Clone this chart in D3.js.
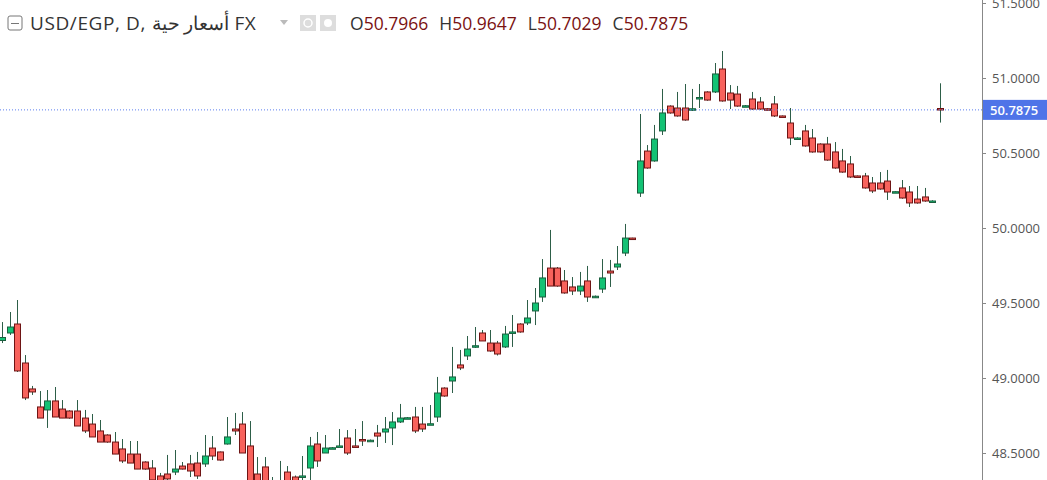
<!DOCTYPE html>
<html><head><meta charset="utf-8">
<script src="https://cdn.jsdelivr.net/npm/d3@7"></script>
<style>body{margin:0;background:#fff;font-family:"Open Sans",Arial,sans-serif}</style>
</head><body><svg id="c" width="1047" height="480"></svg>
<script>
const opens=[49.25,49.30,49.36,49.10,48.927,48.807,48.787,48.847,48.793,48.78,48.78,48.733,48.693,48.647,48.62,48.573,48.527,48.493,48.493,48.44,48.40,48.347,48.36,
48.373,48.413,48.427,48.433,48.427,48.533,48.507,48.56,48.66,48.693,48.547,48.36,48.407,48.30,48.31,48.373,48.34,48.34,48.40,48.56,48.50,
48.533,48.54,48.60,48.547,48.59,48.585,48.633,48.64,48.667,48.707,48.73,48.74,48.693,48.69,48.74,48.933,48.98,49.087,49.147,49.21,49.30,49.233,
49.233,49.207,49.303,49.36,49.367,49.447,49.54,49.733,49.733,49.647,49.607,49.58,49.647,49.54,49.593,49.713,49.74,49.833,49.933,
50.233,50.513,50.447,50.647,50.813,50.80,50.80,50.79,50.865,50.907,50.907,51.06,50.90,50.893,50.81,50.86,50.84,50.795,50.827,50.747,50.70,50.60,
50.647,50.60,50.56,50.56,50.507,50.447,50.427,50.347,50.347,50.30,50.30,50.313,50.24,50.267,50.24,50.193,50.207,50.18,50.7966];
const closes=[49.27,49.34,49.047,48.867,48.907,48.733,48.847,48.74,48.733,48.733,48.68,48.647,48.607,48.573,48.573,48.493,48.447,48.433,48.393,48.393,48.32,48.29,48.327,
48.393,48.393,48.38,48.347,48.48,48.48,48.453,48.607,48.647,48.50,48.29,48.29,48.28,48.29,48.315,48.30,48.30,48.347,48.547,48.447,48.533,
48.535,48.547,48.50,48.54,48.587,48.585,48.613,48.66,48.707,48.733,48.735,48.647,48.66,48.695,48.90,48.88,49.007,49.067,49.193,49.215,49.247,49.18,
49.16,49.293,49.307,49.307,49.40,49.50,49.667,49.613,49.613,49.567,49.58,49.613,49.54,49.545,49.667,49.70,49.76,49.933,49.93,
50.447,50.40,50.593,50.767,50.767,50.747,50.72,50.795,50.87,50.853,51.027,50.847,50.853,50.813,50.815,50.793,50.793,50.79,50.747,50.745,50.60,50.60,
50.547,50.507,50.507,50.453,50.40,50.373,50.34,50.345,50.267,50.247,50.26,50.24,50.242,50.20,50.167,50.167,50.18,50.18,50.7875];
const highs=[49.373,49.44,49.52,49.153,48.947,48.913,48.92,48.94,48.853,48.785,48.853,48.787,48.76,48.72,48.625,48.64,48.593,48.58,48.58,48.445,48.453,48.367,48.487,
48.52,48.44,48.487,48.507,48.62,48.613,48.51,48.74,48.767,48.773,48.713,48.473,48.473,48.34,48.447,48.413,48.35,48.48,48.607,48.64,48.62,
48.54,48.66,48.653,48.66,48.713,48.59,48.687,48.74,48.773,48.827,48.74,48.807,48.807,48.82,49.007,48.938,49.207,49.187,49.28,49.34,49.32,49.32,
49.247,49.347,49.42,49.365,49.52,49.60,49.793,49.987,49.74,49.72,49.673,49.707,49.747,49.55,49.793,49.787,49.88,50.027,49.935,
50.76,50.553,50.687,50.927,50.818,50.907,50.96,50.927,50.96,50.912,51.10,51.18,50.953,50.947,50.82,50.907,50.873,50.80,50.88,50.75,50.80,50.605,
50.687,50.66,50.565,50.607,50.573,50.527,50.48,50.35,50.367,50.34,50.373,50.387,50.245,50.32,50.28,50.28,50.267,50.185,50.9647];
const lows=[49.233,49.287,49.04,48.853,48.887,48.733,48.667,48.74,48.733,48.728,48.68,48.633,48.607,48.573,48.568,48.493,48.433,48.433,48.393,48.388,48.30,48.28,48.32,
48.353,48.39,48.34,48.327,48.407,48.453,48.448,48.556,48.62,48.50,48.28,48.27,48.27,48.25,48.26,48.27,48.28,48.30,48.30,48.407,48.50,
48.53,48.54,48.487,48.535,48.547,48.58,48.54,48.567,48.553,48.70,48.728,48.633,48.64,48.688,48.707,48.875,48.90,49.053,49.12,49.20,49.247,49.175,
49.15,49.20,49.207,49.302,49.353,49.353,49.507,49.613,49.608,49.562,49.553,49.553,49.507,49.535,49.567,49.607,49.72,49.813,49.925,
50.207,50.395,50.442,50.62,50.762,50.742,50.715,50.78,50.80,50.848,50.90,50.842,50.793,50.808,50.808,50.788,50.788,50.785,50.74,50.74,50.553,50.595,
50.542,50.502,50.502,50.448,50.395,50.368,50.333,50.34,50.262,50.233,50.255,50.187,50.237,50.195,50.14,50.162,50.175,50.175,50.7029];
const yTicks=[48.5,49.0,49.5,50.0,50.5,51.0,51.5];
const last=50.7875;

const svg=d3.select("#c");
const n=opens.length;
const x=d3.scaleLinear().domain([0,n-1]).range([2,2+7.5*(n-1)]);
const y=d3.scaleLinear().domain([48.5,51]).range([453,78]);
const AX=982;

const g=svg.append("g");
for(let i=0;i<n;i++){
  const up=closes[i]>=opens[i];
  const cx=Math.round(x(i))+0.5;
  g.append("line").attr("x1",cx).attr("x2",cx).attr("y1",y(highs[i])).attr("y2",y(lows[i]))
   .attr("stroke","#2d5e48").attr("stroke-width",1);
  const top=y(Math.max(opens[i],closes[i])), bot=y(Math.min(opens[i],closes[i]));
  const h=Math.max(1.5,bot-top);
  g.append("rect").attr("x",cx-3).attr("y",top).attr("width",6).attr("height",h)
   .attr("fill",up?"#13c274":"#f8625c").attr("stroke",up?"#1b5e3e":"#6e1414").attr("stroke-width",1);
}
svg.append("line").attr("x1",0).attr("x2",AX).attr("y1",y(last)).attr("y2",y(last))
 .attr("stroke","#5b7ef0").attr("stroke-width",1).attr("stroke-dasharray","1,2");

svg.append("rect").attr("x",AX).attr("y",0).attr("width",1047-AX).attr("height",480).attr("fill","#fff");
const axis=d3.axisRight(y).tickValues(yTicks).tickFormat(d3.format(".4f")).tickSize(4).tickPadding(6);
const ag=svg.append("g").attr("transform",`translate(${AX},0)`).call(axis);
ag.select(".domain").attr("d","M0.5,0V480").attr("stroke","#888");
ag.selectAll(".tick line").attr("stroke","#888");
ag.selectAll(".tick text").attr("fill","#555").attr("font-size",13).attr("font-family","Open Sans, Arial");
svg.append("rect").attr("x",AX+1).attr("y",y(last)-10).attr("width",64).attr("height",20).attr("fill","#4f74e8");
svg.append("text").attr("x",AX+8).attr("y",y(last)+5).attr("fill","#fff").attr("font-size",13)
 .attr("font-family","Open Sans, Arial").attr("font-weight",600).text(last.toFixed(4));

const hd=svg.append("g");
hd.append("rect").attr("x",8).attr("y",16).attr("width",14).attr("height",14).attr("rx",2)
 .attr("fill","none").attr("stroke","#777");
hd.append("line").attr("x1",11).attr("x2",19).attr("y1",23.5).attr("y2",23.5).attr("stroke","#777");
hd.append("text").attr("x",30).attr("y",30).attr("font-size",19).attr("fill","#333").attr("letter-spacing",0.6)
 .attr("font-family","Open Sans, Noto Sans, sans-serif")
 .text("USD/EGP, D, \u202Bأسعار حية\u202C FX");
hd.append("path").attr("d","M280,20 l8,0 l-4,5 z").attr("fill","#bbb");
hd.append("rect").attr("x",300).attr("y",15).attr("width",16).attr("height",16).attr("fill","#ddd");
hd.append("circle").attr("cx",308).attr("cy",23).attr("r",4).attr("fill","none").attr("stroke","#fff").attr("stroke-width",1.5);
hd.append("rect").attr("x",320).attr("y",15).attr("width",16).attr("height",16).attr("fill","#ddd");
hd.append("circle").attr("cx",328).attr("cy",23).attr("r",4).attr("fill","#fff");
const vals=[["O","50.7966"],["H","50.9647"],["L","50.7029"],["C","50.7875"]];
const tx=hd.append("text").attr("x",350).attr("y",30).attr("font-size",17.5).attr("font-family","Open Sans, sans-serif");
vals.forEach((v,i)=>{
  tx.append("tspan").attr("fill","#333").attr("dx",i?11:0).text(v[0]);
  tx.append("tspan").attr("fill","#7a1212").text(v[1]);
});
</script></body></html>
